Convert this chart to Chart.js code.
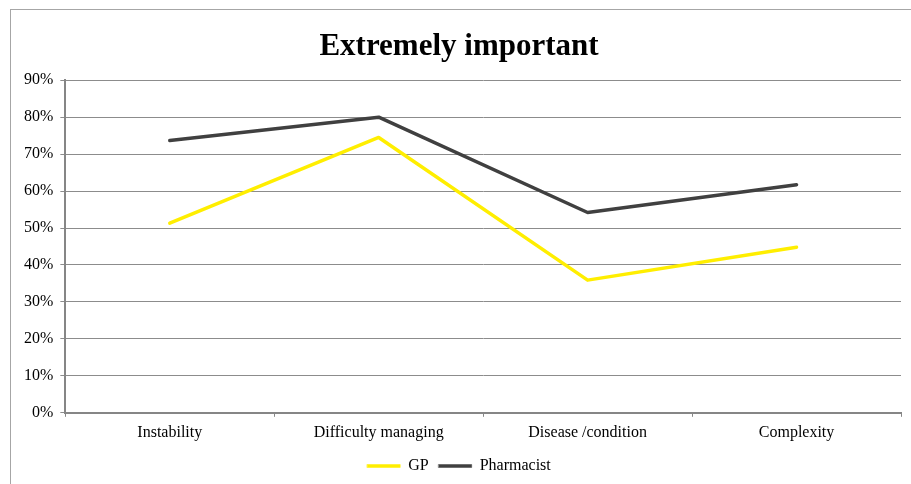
<!DOCTYPE html>
<html>
<head>
<meta charset="utf-8">
<script src="https://cdn.jsdelivr.net/npm/chart.js@4"></script>
<style>
  body { margin: 0; background: #fff; }
  #frame { position: absolute; left: 10px; top: 9px; width: 905px; height: 480px;
           border-left: 1px solid #a6a6a6; border-top: 1px solid #a6a6a6; }
  #wrap { position: absolute; left: 0; top: 0; width: 911px; height: 484px; }
</style>
</head>
<body>
<div id="frame"></div>
<div id="wrap"><canvas id="chart"></canvas></div>
<script>
// categories and values (percent)
var categories = ["Instability", "Difficulty managing", "Disease /condition", "Complexity"];
var gpValues = [51.3, 74.5, 35.9, 44.8];
var pharmacistValues = [73.7, 80.0, 54.2, 61.7];
var yTicks = [0, 10, 20, 30, 40, 50, 60, 70, 80, 90];

var serif = "'Liberation Serif', 'DejaVu Serif', serif";

var config = {
    type: "line",
    data: {
        labels: categories,
        datasets: [{
            label: "GP",
            data: gpValues,
            borderColor: "#ffee00",
            backgroundColor: "#ffee00",
            borderWidth: 3.5,
            borderCapStyle: "round",
            borderJoinStyle: "round",
            pointRadius: 0,
            tension: 0
        }, {
            label: "Pharmacist",
            data: pharmacistValues,
            borderColor: "#404040",
            backgroundColor: "#404040",
            borderWidth: 3.5,
            borderCapStyle: "round",
            borderJoinStyle: "round",
            pointRadius: 0,
            tension: 0
        }]
    },
    options: {
        responsive: false,
        animation: false,
        layout: { padding: { left: 17, right: 10, top: 16, bottom: 0 } },
        plugins: {
            title: {
                display: true,
                text: "Extremely important",
                color: "#000",
                font: { family: serif, size: 31, weight: "bold" },
                padding: { top: 12, bottom: 15 }
            },
            legend: {
                position: "bottom",
                labels: {
                    color: "#000",
                    font: { family: serif, size: 16 },
                    boxWidth: 33,
                    boxHeight: 3,
                    padding: 10,
                    generateLabels: function (chart) {
                        var items = Chart.defaults.plugins.legend.labels.generateLabels(chart);
                        items.forEach(function (it) { it.lineWidth = 0.5; });
                        return items;
                    }
                }
            },
            tooltip: { enabled: false }
        },
        scales: {
            x: {
                offset: true,
                grid: { display: true, drawOnChartArea: false, color: "#868686", tickLength: 4, offset: true },
                border: { color: "#868686", width: 2 },
                ticks: { color: "#000", font: { family: serif, size: 16 }, padding: 6 }
            },
            y: {
                min: 0,
                max: 90,
                afterBuildTicks: function (axis) {
                    axis.ticks = yTicks.map(function (v) { return { value: v }; });
                },
                grid: { color: "#8c8c8c", tickLength: 5 },
                border: { color: "#868686", width: 2 },
                ticks: {
                    color: "#000",
                    font: { family: serif, size: 16 },
                    padding: 7,
                    callback: function (v) { return v + "%"; }
                }
            }
        }
    }
};

var canvasElement = document.getElementById("chart");
canvasElement.width = 911;
canvasElement.height = 484;
new Chart(canvasElement, config);
</script>
</body>
</html>
